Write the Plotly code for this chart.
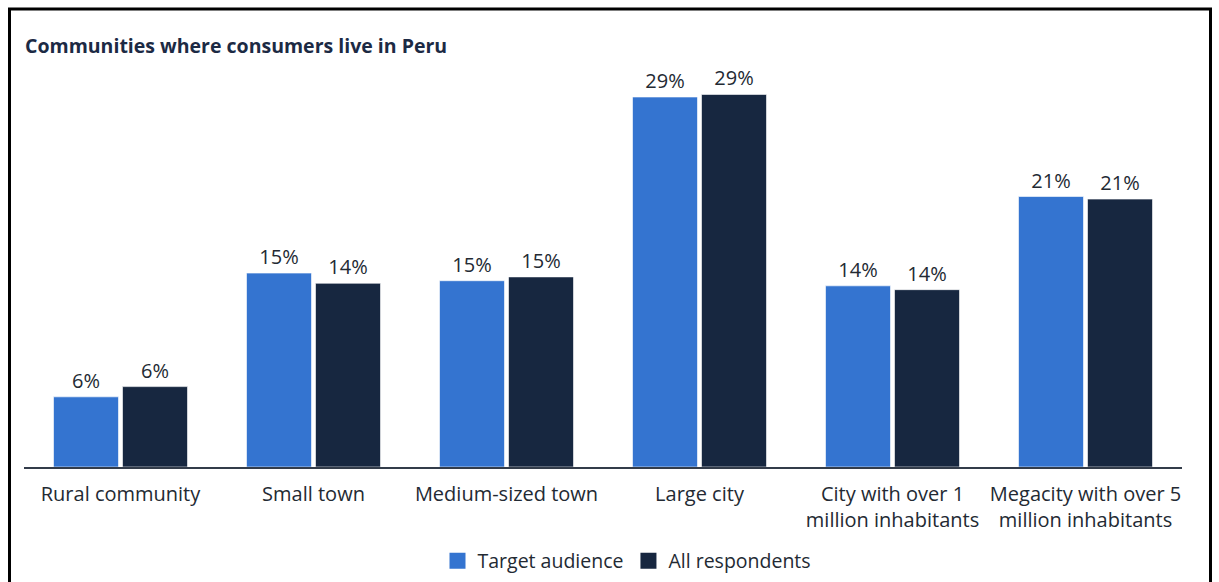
import plotly.graph_objects as go

categories = [
    "Rural community",
    "Small town",
    "Medium-sized town",
    "Large city",
    "City with over 1<br>million inhabitants",
    "Megacity with over 5<br>million inhabitants",
]
target_audience = [5.5, 15.2, 14.6, 29.0, 14.2, 21.2]
all_respondents = [6.3, 14.4, 14.9, 29.2, 13.9, 21.0]
series_names = ["Target audience", "All respondents"]
series_colors = ["#3474d0", "#172740"]

FONT = "Open Sans"
TEXT = "#232a33"

fig = go.Figure()
for name, vals, col in zip(series_names, [target_audience, all_respondents], series_colors):
    fig.add_trace(go.Bar(
        x=categories, y=vals, name=name,
        marker=dict(color=col, line=dict(color="white", width=0.6)),
        texttemplate="%{y:.0f}%", textposition="outside",
        textfont=dict(family=FONT, size=20, color=TEXT),
        cliponaxis=False, showlegend=False,
    ))
    # legend swatch
    fig.add_trace(go.Scatter(
        x=[None], y=[None], mode="markers", name=name,
        marker=dict(symbol="square", size=18, color=col),
    ))

W, H = 1219, 582
ml, mr, mt, mb = 24, 37, 60, 115
pw, ph = W - ml - mr, H - mt - mb

def px_x(p):
    return (p - ml) / pw

def px_y(p):
    return (H - mb - p) / ph

fig.update_layout(
    width=W, height=H,
    margin=dict(l=ml, r=mr, t=mt, b=mb, autoexpand=False),
    paper_bgcolor="white", plot_bgcolor="white",
    barmode="group", bargap=0.285, bargroupgap=0.058,
    font=dict(family=FONT, size=20, color=TEXT),
    title=dict(
        text="<b>Communities where consumers live in Peru</b>",
        x=25 / W, xanchor="left", y=1 - 46 / H, yanchor="middle",
        font=dict(family=FONT, size=19.5, color="#1c2a44"),
    ),
    xaxis=dict(
        showline=True, linecolor="#333c4a", linewidth=2,
        ticks="", showgrid=False, automargin=False,
        ticklabelstandoff=8,
        tickfont=dict(family=FONT, size=20, color=TEXT),
    ),
    yaxis=dict(range=[0, 31.9], visible=False, showgrid=False, zeroline=False,
               automargin=False),
    legend=dict(
        orientation="h", x=px_x(627), xanchor="center",
        y=px_y(561), yanchor="middle",
        font=dict(family=FONT, size=19.5, color=TEXT),
        itemsizing="trace", bgcolor="rgba(0,0,0,0)",
    ),
    shapes=[dict(
        type="rect", xref="paper", yref="paper",
        x0=px_x(9.5), x1=px_x(1210.5), y0=px_y(600), y1=px_y(9),
        line=dict(color="black", width=3), fillcolor="rgba(0,0,0,0)",
        layer="above",
    )],
)

fig.write_html("out.html")
